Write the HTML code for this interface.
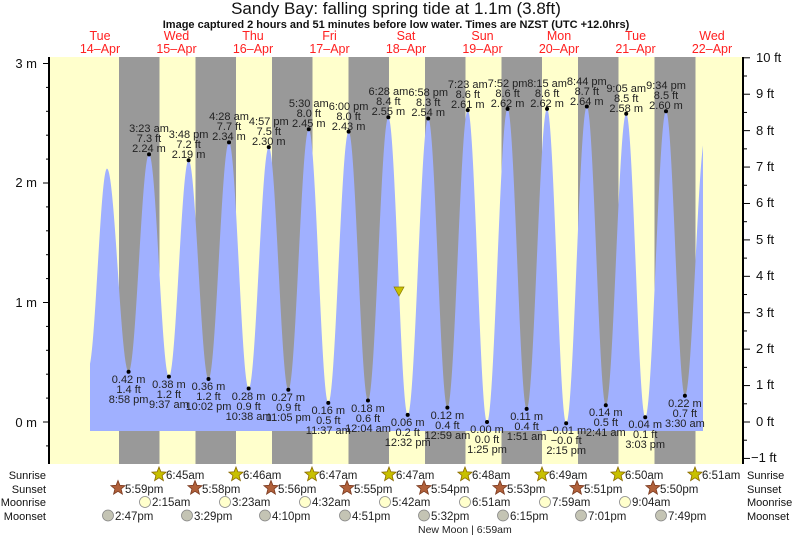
<!DOCTYPE html>
<html><head><meta charset="utf-8"><style>
html,body{margin:0;padding:0;background:#fff}
svg{display:block;font-family:"Liberation Sans",sans-serif}
.l{font-size:11px;fill:#222;text-anchor:middle}
.d{font-size:12.5px;fill:#ff2020;text-anchor:middle}
.ax{font-size:13px;fill:#111}
.r{font-size:11.5px;fill:#222}
.rl{font-size:11px;fill:#111}
</style></head><body>
<svg id="s" width="793" height="537" viewBox="0 0 793 537">
<text x="396" y="14" font-size="17" text-anchor="middle" fill="#111">Sandy Bay: falling  spring tide at 1.1m (3.8ft)</text>
<text x="396" y="28" font-size="11" font-weight="bold" text-anchor="middle" fill="#111">Image captured 2 hours and 51 minutes before low water. Times are NZST (UTC +12.0hrs)</text>
<g>
<text class="d" x="100" y="40">Tue</text><text class="d" x="100" y="53">14–Apr</text>
<text class="d" x="176.5" y="40">Wed</text><text class="d" x="176.5" y="53">15–Apr</text>
<text class="d" x="253" y="40">Thu</text><text class="d" x="253" y="53">16–Apr</text>
<text class="d" x="329.5" y="40">Fri</text><text class="d" x="329.5" y="53">17–Apr</text>
<text class="d" x="406" y="40">Sat</text><text class="d" x="406" y="53">18–Apr</text>
<text class="d" x="482.5" y="40">Sun</text><text class="d" x="482.5" y="53">19–Apr</text>
<text class="d" x="559" y="40">Mon</text><text class="d" x="559" y="53">20–Apr</text>
<text class="d" x="635.5" y="40">Tue</text><text class="d" x="635.5" y="53">21–Apr</text>
<text class="d" x="712" y="40">Wed</text><text class="d" x="712" y="53">22–Apr</text>
</g>
<rect x="49" y="57" width="694" height="407" fill="#ffffcc"/>
<g fill="#999">
<rect x="119" y="57" width="40.5" height="407"/><rect x="195.5" y="57" width="40.5" height="407"/>
<rect x="272" y="57" width="40.5" height="407"/><rect x="348.5" y="57" width="40.5" height="407"/>
<rect x="425" y="57" width="40.5" height="407"/><rect x="501.5" y="57" width="40.5" height="407"/>
<rect x="578" y="57" width="40.5" height="407"/><rect x="654.5" y="57" width="41" height="407"/>
</g>
<path id="tide" fill="#a0b0ff" d=""/>
<polygon points="394,287 404,287 399,296" fill="#c8c000" stroke="#8a7a00" stroke-width="0.7"/>
<g id="dots" fill="#000"></g>
<g>
<text class="l" x="149" y="132">3:23 am</text><text class="l" x="149" y="142">7.3 ft</text><text class="l" x="149" y="152">2.24 m</text>
<text class="l" x="188.6" y="138">3:48 pm</text><text class="l" x="188.6" y="148">7.2 ft</text><text class="l" x="188.6" y="158">2.19 m</text>
<text class="l" x="229" y="120">4:28 am</text><text class="l" x="229" y="130">7.7 ft</text><text class="l" x="229" y="140">2.34 m</text>
<text class="l" x="268.8" y="125">4:57 pm</text><text class="l" x="268.8" y="135">7.5 ft</text><text class="l" x="268.8" y="145">2.30 m</text>
<text class="l" x="308.8" y="107">5:30 am</text><text class="l" x="308.8" y="117">8.0 ft</text><text class="l" x="308.8" y="127">2.45 m</text>
<text class="l" x="348.6" y="110">6:00 pm</text><text class="l" x="348.6" y="120">8.0 ft</text><text class="l" x="348.6" y="130">2.43 m</text>
<text class="l" x="388.4" y="95">6:28 am</text><text class="l" x="388.4" y="105">8.4 ft</text><text class="l" x="388.4" y="115">2.55 m</text>
<text class="l" x="428.2" y="96">6:58 pm</text><text class="l" x="428.2" y="106">8.3 ft</text><text class="l" x="428.2" y="116">2.54 m</text>
<text class="l" x="467.8" y="88">7:23 am</text><text class="l" x="467.8" y="98">8.6 ft</text><text class="l" x="467.8" y="108">2.61 m</text>
<text class="l" x="507.6" y="87">7:52 pm</text><text class="l" x="507.6" y="97">8.6 ft</text><text class="l" x="507.6" y="107">2.62 m</text>
<text class="l" x="547.1" y="87">8:15 am</text><text class="l" x="547.1" y="97">8.6 ft</text><text class="l" x="547.1" y="107">2.62 m</text>
<text class="l" x="586.8" y="85">8:44 pm</text><text class="l" x="586.8" y="95">8.7 ft</text><text class="l" x="586.8" y="105">2.64 m</text>
<text class="l" x="626.2" y="92">9:05 am</text><text class="l" x="626.2" y="102">8.5 ft</text><text class="l" x="626.2" y="112">2.58 m</text>
<text class="l" x="666" y="89">9:34 pm</text><text class="l" x="666" y="99">8.5 ft</text><text class="l" x="666" y="109">2.60 m</text>

<text class="l" x="128.6" y="383">0.42 m</text><text class="l" x="128.6" y="393">1.4 ft</text><text class="l" x="128.6" y="403">8:58 pm</text>
<text class="l" x="168.9" y="388">0.38 m</text><text class="l" x="168.9" y="398">1.2 ft</text><text class="l" x="168.9" y="408">9:37 am</text>
<text class="l" x="208.5" y="390">0.36 m</text><text class="l" x="208.5" y="400">1.2 ft</text><text class="l" x="208.5" y="410">10:02 pm</text>
<text class="l" x="248.6" y="400">0.28 m</text><text class="l" x="248.6" y="410">0.9 ft</text><text class="l" x="248.6" y="420">10:38 am</text>
<text class="l" x="288.3" y="401">0.27 m</text><text class="l" x="288.3" y="411">0.9 ft</text><text class="l" x="288.3" y="421">11:05 pm</text>
<text class="l" x="328.3" y="414">0.16 m</text><text class="l" x="328.3" y="424">0.5 ft</text><text class="l" x="328.3" y="434">11:37 am</text>
<text class="l" x="368" y="412">0.18 m</text><text class="l" x="368" y="422">0.6 ft</text><text class="l" x="368" y="432">12:04 am</text>
<text class="l" x="407.7" y="426">0.06 m</text><text class="l" x="407.7" y="436">0.2 ft</text><text class="l" x="407.7" y="446">12:32 pm</text>
<text class="l" x="447.4" y="419">0.12 m</text><text class="l" x="447.4" y="429">0.4 ft</text><text class="l" x="447.4" y="439">12:59 am</text>
<text class="l" x="487" y="433">0.00 m</text><text class="l" x="487" y="443">0.0 ft</text><text class="l" x="487" y="453">1:25 pm</text>
<text class="l" x="526.6" y="420">0.11 m</text><text class="l" x="526.6" y="430">0.4 ft</text><text class="l" x="526.6" y="440">1:51 am</text>
<text class="l" x="566.2" y="434">−0.01 m</text><text class="l" x="566.2" y="444">−0.0 ft</text><text class="l" x="566.2" y="454">2:15 pm</text>
<text class="l" x="605.8" y="416">0.14 m</text><text class="l" x="605.8" y="426">0.5 ft</text><text class="l" x="605.8" y="436">2:41 am</text>
<text class="l" x="645.2" y="428">0.04 m</text><text class="l" x="645.2" y="438">0.1 ft</text><text class="l" x="645.2" y="448">3:03 pm</text>
<text class="l" x="684.9" y="407">0.22 m</text><text class="l" x="684.9" y="417">0.7 ft</text><text class="l" x="684.9" y="427">3:30 am</text>
</g>
<line x1="49" y1="57" x2="49" y2="464" stroke="#000" stroke-width="2"/>
<line x1="743" y1="57" x2="743" y2="464" stroke="#000" stroke-width="2"/>
<g id="ticks" stroke="#000" stroke-width="1"></g>
<g class="ax" text-anchor="end">
<text x="37" y="68">3 m</text><text x="37" y="187">2 m</text><text x="37" y="307">1 m</text><text x="37" y="427">0 m</text>
</g>
<g class="ax">
<text x="756" y="62">10 ft</text><text x="756" y="98">9 ft</text><text x="756" y="135">8 ft</text><text x="756" y="171">7 ft</text>
<text x="756" y="207">6 ft</text><text x="756" y="244">5 ft</text><text x="756" y="280">4 ft</text><text x="756" y="317">3 ft</text>
<text x="756" y="353">2 ft</text><text x="756" y="389">1 ft</text><text x="756" y="426">0 ft</text><text x="751" y="462">−1 ft</text>
</g>
<g class="rl" text-anchor="end">
<text x="46" y="479">Sunrise</text><text x="46" y="493">Sunset</text><text x="46" y="506">Moonrise</text><text x="46" y="520">Moonset</text>
</g>
<g class="rl">
<text x="747" y="479">Sunrise</text><text x="747" y="493">Sunset</text><text x="747" y="506">Moonrise</text><text x="747" y="520">Moonset</text>
</g>
<g id="icons"></g>
<g class="r">
<text x="166" y="479">6:45am</text><text x="243" y="479">6:46am</text><text x="319" y="479">6:47am</text><text x="396" y="479">6:47am</text>
<text x="472" y="479">6:48am</text><text x="549" y="479">6:49am</text><text x="625" y="479">6:50am</text><text x="702" y="479">6:51am</text>
<text x="125" y="493">5:59pm</text><text x="202" y="493">5:58pm</text><text x="278" y="493">5:56pm</text><text x="354" y="493">5:55pm</text>
<text x="431" y="493">5:54pm</text><text x="507" y="493">5:53pm</text><text x="584" y="493">5:51pm</text><text x="660" y="493">5:50pm</text>
<text x="152" y="506">2:15am</text><text x="232" y="506">3:23am</text><text x="312" y="506">4:32am</text><text x="392" y="506">5:42am</text>
<text x="472" y="506">6:51am</text><text x="552" y="506">7:59am</text><text x="632" y="506">9:04am</text>
<text x="115" y="520">2:47pm</text><text x="194" y="520">3:29pm</text><text x="272" y="520">4:10pm</text><text x="352" y="520">4:51pm</text>
<text x="431" y="520">5:32pm</text><text x="510" y="520">6:15pm</text><text x="588" y="520">7:01pm</text><text x="668" y="520">7:49pm</text>
<text x="418" y="533" font-size="10.5">New Moon | 6:59am</text>
</g>
</svg>
<script>
var X=function(h){return 61.75+3.1875*h},Y=function(m){return 422-119.5*m};
var E=[[8.3,0.45],[14.2,2.12],[20.967,0.42],[27.383,2.24],[33.617,0.38],[39.8,2.19],[46.033,0.36],[52.467,2.34],[58.633,0.28],[64.95,2.30],[71.083,0.27],[77.5,2.45],[83.617,0.16],[90,2.43],[96.067,0.18],[102.467,2.55],[108.533,0.06],[114.967,2.54],[120.983,0.12],[127.383,2.61],[133.417,0],[139.867,2.62],[145.85,0.11],[152.25,2.62],[158.25,-0.01],[164.733,2.64],[170.683,0.14],[177.083,2.58],[183.05,0.04],[189.567,2.60],[195.5,0.22],[202.0,2.4]];
function v(h){for(var i=0;i<E.length-1;i++){if(h>=E[i][0]&&h<=E[i+1][0]){var f=(h-E[i][0])/(E[i+1][0]-E[i][0]);return E[i][1]+(E[i+1][1]-E[i][1])*(1-Math.cos(Math.PI*f))/2;}}return E[0][1];}
var h0=(90-61.75)/3.1875,h1=(703-61.75)/3.1875,d="M90,431";
for(var h=h0;h<=h1;h+=0.1){d+=" L"+X(h).toFixed(2)+","+Y(v(h)).toFixed(2);}
d+=" L703,"+Y(v(h1)).toFixed(2)+" L703,431 Z";
document.getElementById("tide").setAttribute("d",d);
var ns="http://www.w3.org/2000/svg",g=document.getElementById("dots");
for(var i=2;i<E.length-1;i++){var c=document.createElementNS(ns,"circle");c.setAttribute("cx",X(E[i][0]));c.setAttribute("cy",Y(E[i][1]));c.setAttribute("r",2);g.appendChild(c);}
var t=document.getElementById("ticks");
function ln(a,b,c,e){var l=document.createElementNS(ns,"line");l.setAttribute("x1",a);l.setAttribute("y1",b);l.setAttribute("x2",c);l.setAttribute("y2",e);t.appendChild(l);}
for(var m=-0.2;m<=3.01;m+=0.2){var y=Y(m);var major=Math.abs(m-Math.round(m))<0.01;ln(major?43:46,y,49,y);}
for(var f=-1;f<=10.01;f+=0.5){var y=422-36.42*f;var major=Math.abs(f-Math.round(f))<0.01;ln(743,y,major?750:747,y);}
var ic=document.getElementById("icons");
function star(cx,cy,fill,stroke){var p="";for(var k=0;k<10;k++){var r=k%2?3.3:7.5,a=-Math.PI/2+k*Math.PI/5;p+=(cx+r*Math.cos(a)).toFixed(1)+","+(cy+r*Math.sin(a)).toFixed(1)+" ";}var s=document.createElementNS(ns,"polygon");s.setAttribute("points",p);s.setAttribute("fill",fill);s.setAttribute("stroke",stroke);s.setAttribute("stroke-width","0.8");ic.appendChild(s);}
function circ(cx,cy,fill){var c=document.createElementNS(ns,"circle");c.setAttribute("cx",cx);c.setAttribute("cy",cy);c.setAttribute("r",5.5);c.setAttribute("fill",fill);c.setAttribute("stroke","#888");c.setAttribute("stroke-width","0.8");ic.appendChild(c);}
[159,236,312,389,465,542,618,695].forEach(function(x){star(x,474.5,"#c8c000","#8a6a00");});
[118,195,271,347,424,500,577,653].forEach(function(x){star(x,488,"#b0603a","#7a3a20");});
[145,225,305,385,465,545,625].forEach(function(x){circ(x,502,"#ffffcc");});
[108,187,265,345,424,503,581,661].forEach(function(x){circ(x,515.5,"#c4c4b4");});
</script>
</body></html>
